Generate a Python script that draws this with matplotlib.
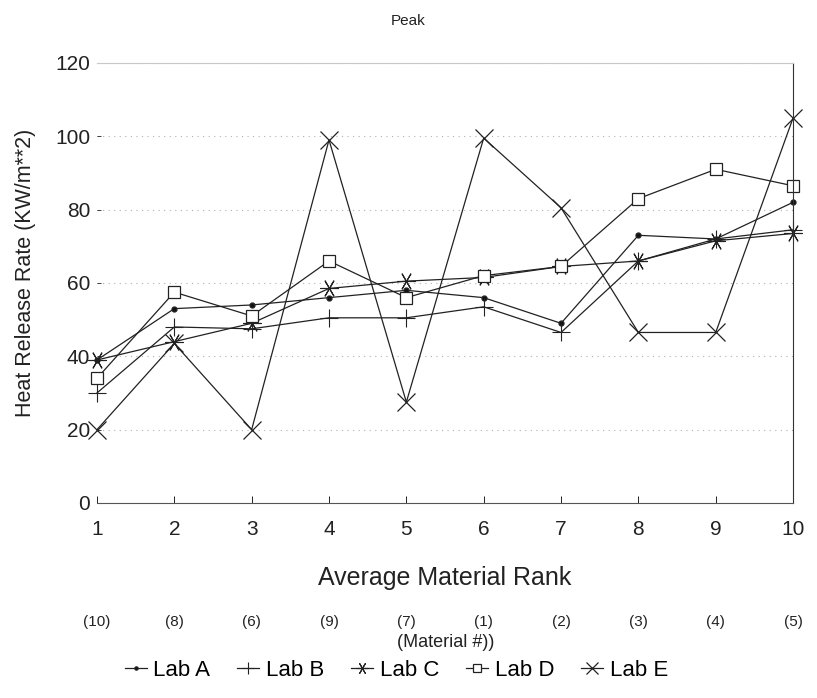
import matplotlib
matplotlib.use('Agg')
import matplotlib.pyplot as plt
from matplotlib.lines import Line2D

plt.rcParams['font.family'] = ['Liberation Sans Narrow', 'Liberation Sans', 'DejaVu Sans']

# data
ranks = [1, 2, 3, 4, 5, 6, 7, 8, 9, 10]
material_nums = ['(10)', '(8)', '(6)', '(9)', '(7)', '(1)', '(2)', '(3)', '(4)', '(5)']
lab_a = [39, 53, 54, 56, 58, 56, 49, 73, 72, 82]
lab_b = [30, 48, 47.5, 50.5, 50.5, 53.5, 46.5, 66, 72, 74.5]
lab_c = [39, 44, 49, 58.5, 60.5, 61.5, 64.5, 66, 71.5, 73.5]
lab_d = [34, 57.5, 51, 66, 56, 62, 64.5, 83, 91, 86.5]
lab_e = [20, 43.5, 20, 99, 27.5, 99.5, 80.5, 46.5, 46.5, 105]

series = [
	('Lab A', lab_a, dict(marker='o', markersize=3.5, markerfacecolor='#111')),
	('Lab B', lab_b, dict(marker='+', markersize=13, markeredgewidth=0.8)),
	('Lab C', lab_c, dict(marker=(6, 2, 90), markersize=13, markeredgewidth=0.8)),
	('Lab D', lab_d, dict(marker='s', markersize=8, markerfacecolor='white', markeredgewidth=0.9)),
	('Lab E', lab_e, dict(marker='x', markersize=13, markeredgewidth=0.9)),
]

fig = plt.figure(figsize=(8.17, 6.98), dpi=100)
ax = fig.add_axes([0.1187, 0.2794, 0.852, 0.6304])

for yv in [20, 40, 60, 80, 100, 120]:
	ax.axhline(yv, color='#b0b0b0', lw=0.8, ls=(0, (1, 4)), zorder=0)

for name, vals, style in series:
	ax.plot(ranks, vals, color='#222222', lw=0.9, markeredgecolor='#222222',
		clip_on=False, label=name, **style)

ax.set_xlim(1, 10)
ax.set_ylim(0, 120)
ax.set_xticks(ranks)
ax.set_yticks([0, 20, 40, 60, 80, 100, 120])
ax.tick_params(axis='x', direction='in', length=5, width=0.7, pad=12, labelsize=15)
ax.tick_params(axis='y', direction='in', length=3, width=0.6, pad=5, labelsize=15,
	colors='#222222')
ax.tick_params(axis='x', colors='#222222')

ax.spines['left'].set_visible(False)
ax.spines['top'].set_color('#c8c8c8')
ax.spines['top'].set_linewidth(0.8)
ax.spines['right'].set_color('#333333')
ax.spines['right'].set_linewidth(0.8)
ax.spines['bottom'].set_color('#555555')
ax.spines['bottom'].set_linewidth(0.8)

fig.text(0.5, 0.97, 'Peak', ha='center', va='center', fontsize=11, color='#222222')
fig.text(0.031, 0.609, 'Heat Release Rate (KW/m**2)', rotation=90, ha='center',
	va='center', fontsize=15.5, color='#222222')
ax.set_xlabel('Average Material Rank', fontsize=18, labelpad=20, color='#222222')

for r, lbl in zip(ranks, material_nums):
	ax.annotate(lbl, xy=(r, 0), xycoords=('data', 'axes fraction'),
		xytext=(0, -86), textcoords='offset points', ha='center', va='center',
		fontsize=11, color='#222222', annotation_clip=False)
fig.text(0.545, 0.08, '(Material #))', ha='center', va='center', fontsize=13,
	color='#222222')

handles = [Line2D([], [], color='#222222', lw=0.9, markeredgecolor='#222222', **s)
	for _, _, s in series]
fig.legend(handles, [n for n, _, _ in series], loc='center', bbox_to_anchor=(0.485, 0.04),
	ncol=5, frameon=False, fontsize=16, handlelength=1.0, handletextpad=0.3,
	columnspacing=1.2, markerscale=0.65)

fig.savefig('out.png', dpi=100)
